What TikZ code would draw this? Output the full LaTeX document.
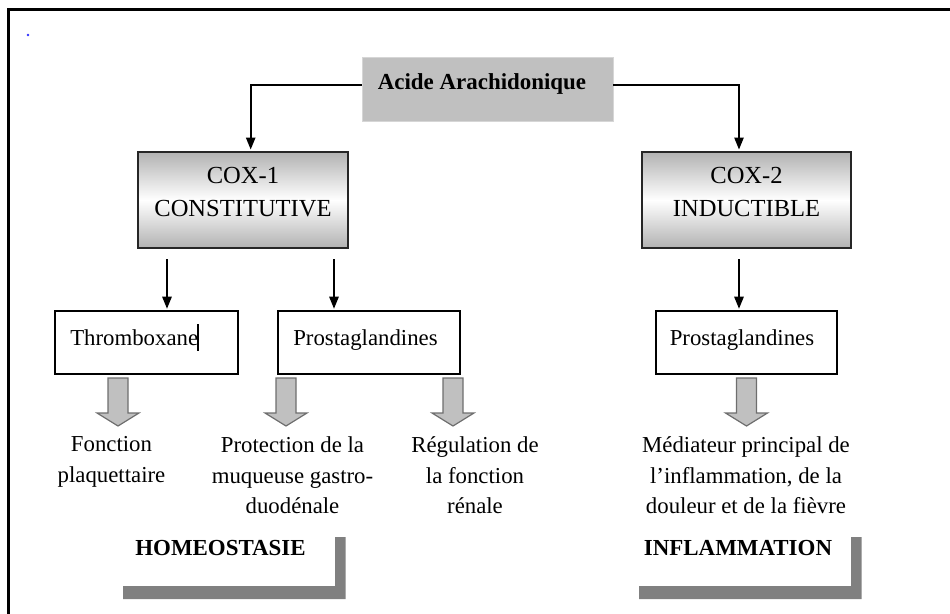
\documentclass[tikz,border=0pt]{standalone}
\usepackage{fontspec}
\setmainfont{Liberation Serif}
\usetikzlibrary{arrows.meta}
\definecolor{boxgray}{HTML}{C0C0C0}
\definecolor{boxedge}{HTML}{D6D6D6}
\definecolor{edgegray}{HTML}{6E6E6E}
\definecolor{bargray}{HTML}{808080}
\definecolor{shadegray}{HTML}{B2B2B2}
\definecolor{dotblue}{HTML}{3030FF}

\tikzset{
  % one drawing unit = one pixel of the 950 x 614 canvas, y pointing down
  txt/.style={font=\fontsize{17.1}{22.9}\selectfont, inner sep=0pt},
  boldtxt/.style={font=\fontsize{17.2}{22.9}\selectfont\bfseries, inner sep=0pt},
  coxtxt/.style={font=\fontsize{18.4}{24.4}\selectfont, inner sep=0pt, align=center},
  notetxt/.style={txt, align=center, anchor=north},
  topbox/.style={fill=boxgray, draw=boxedge, line width=0.6pt,
    minimum width=188.25pt, minimum height=48pt, inner sep=0pt},
  coxbox/.style={draw=black!85, line width=1.3pt, top color=shadegray,
    bottom color=shadegray, middle color=white,
    minimum width=157.5pt, minimum height=72pt, inner sep=0pt},
  prodbox/.style={draw=black, line width=1pt, minimum height=47.25pt, inner sep=0pt},
  conn/.style={line width=1.2pt, -{Triangle[width=7pt,length=9pt]}, shorten >=1.2pt},
  blockarrow/.pic={
    \path[fill=boxgray, draw=edgegray, line width=0.9pt, line join=miter]
      (-10,0) -- (10,0) -- (10,35) -- (21,35) -- (0,48) -- (-21,35) -- (-10,35) -- cycle;
  },
}

\begin{document}
\begin{tikzpicture}[x=0.75pt, y=-0.75pt]
\useasboundingbox (0,0) rectangle (950,614);

% page frame (top and left edges)
\draw[line width=1.9pt, line join=miter] (8.7,614) -- (8.7,9.5) -- (950,9.5);
\fill[dotblue] (28,35) circle (1.4);

% top node
\node[topbox] (acide) at (487.5,89) {};
\node[boldtxt, anchor=base] (acidetxt) at (482,89) {Acide Arachidonique};

% the two enzymes (text anchored on the baseline of its last line)
\node[coxbox] (cox1) at (243,200) {};
\node[coxtxt, anchor=base] (cox1txt) at (243,216) {COX-1\\CONSTITUTIVE};
\node[coxbox, minimum width=156.75pt] (cox2) at (746.5,200) {};
\node[coxtxt, anchor=base] (cox2txt) at (746.5,216) {COX-2\\INDUCTIBLE};

% branches from the top node
\coordinate (jL) at (250.7,85);
\coordinate (jR) at (739,85);
\draw[conn] (acide.west |- jL) -- (jL) -- (jL |- cox1.north);
\draw[conn] (acide.east |- jR) -- (jR) -- (jR |- cox2.north);

% products
\node[prodbox, minimum width=137.25pt] (thrombo) at (146.5,342.5) {};
\node[prodbox, minimum width=136.5pt] (prost1) at (369,342.5) {};
\node[prodbox, minimum width=135.75pt] (prost2) at (746.5,342.5) {};
\node[txt, anchor=base west] (thrtxt) at (70,345) {Thromboxane};
\draw[line width=1.5pt] (198,324) -- (198,351);
\node[txt, anchor=base] (p1txt) at (365.5,345) {Prostaglandines};
\node[txt, anchor=base] (p2txt) at (742,345) {Prostaglandines};

\coordinate (a1) at (167,259);
\coordinate (a2) at (334,259);
\coordinate (a3) at (739,259);
\draw[conn] (a1) -- (a1 |- thrombo.north);
\draw[conn] (a2) -- (a2 |- prost1.north);
\draw[conn] (a3) -- (a3 |- prost2.north);

% effects
\pic at (118,378) {blockarrow};
\pic at (286,378) {blockarrow};
\pic at (453,378) {blockarrow};
\pic at (746.5,378) {blockarrow};

\node[notetxt] (fonction) at (111.5,436.4) {Fonction\\plaquettaire};
\node[notetxt] (protect) at (292.5,436.4) {Protection de la\\muqueuse gastro-\\duodénale};
\node[notetxt] (regul) at (475,436.4) {Régulation de\\la fonction\\rénale};
\node[notetxt] (mediat) at (746,436.4) {Médiateur principal de\\l’inflammation, de la\\douleur et de la fièvre};

% group labels with their corner bars
\node[boldtxt] (homeo) at (220.5,548) {HOMEOSTASIE};
\fill[bargray] (123,586) -- (335,586) -- (335,537) -- (345.5,537) -- (345.5,599) -- (123,599) -- cycle;
\node[boldtxt] (inflam) at (738,548) {INFLAMMATION};
\fill[bargray] (639,586) -- (851,586) -- (851,537) -- (861.5,537) -- (861.5,599) -- (639,599) -- cycle;
\end{tikzpicture}
\end{document}
